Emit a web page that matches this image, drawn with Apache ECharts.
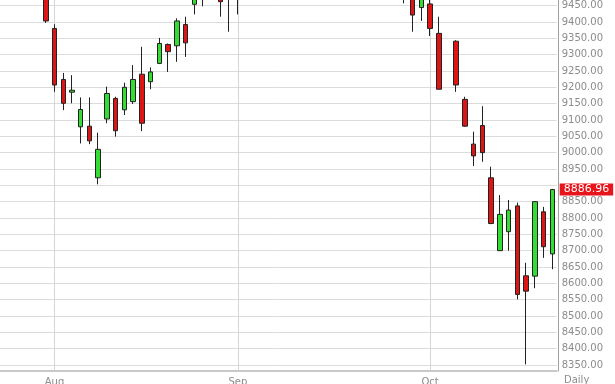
<!DOCTYPE html>
<html><head><meta charset="utf-8">
<script src="https://cdn.jsdelivr.net/npm/echarts@6/dist/echarts.min.js"></script>
<style>html,body{margin:0;padding:0;background:#fff}#c{width:615px;height:384px}</style>
</head><body><div id="c"></div>
<script>
// Trading days (Oct 3 slot is empty on the chart)
const dates = [
 '2014-07-24','2014-07-25','2014-07-28','2014-07-29','2014-07-30','2014-07-31',
 '2014-08-01','2014-08-04','2014-08-05','2014-08-06','2014-08-07','2014-08-08',
 '2014-08-11','2014-08-12','2014-08-13','2014-08-14','2014-08-15',
 '2014-08-18','2014-08-19','2014-08-20','2014-08-21','2014-08-22',
 '2014-08-25','2014-08-26','2014-08-27','2014-08-28','2014-08-29',
 '2014-09-01','2014-09-02','2014-09-03','2014-09-04','2014-09-05',
 '2014-09-08','2014-09-09','2014-09-10','2014-09-11','2014-09-12',
 '2014-09-15','2014-09-16','2014-09-17','2014-09-18','2014-09-19',
 '2014-09-22','2014-09-23','2014-09-24','2014-09-25','2014-09-26',
 '2014-09-29','2014-09-30','2014-10-01','2014-10-02','2014-10-03',
 '2014-10-06','2014-10-07','2014-10-08','2014-10-09','2014-10-10',
 '2014-10-13','2014-10-14','2014-10-15','2014-10-16','2014-10-17',
 '2014-10-20','2014-10-21'
];
const opens = [
 9720,9780,9630,9610,9650,9590,
 9380,9224,9185,9079,9081,8923,
 9103,9166,9131,9156,9240,
 9217,9273,9331,9327,9392,
 9454,9510,9590,9540,9480,
 9470,9480,9530,9630,9720,
 9750,9740,9670,9700,9700,
 9640,9650,9640,9700,9800,
 9780,9700,9590,9660,9500,
 9480,9444,9455,9365,null,
 9341,9163,9026,9083,8923,
 8700,8758,8837,8623,8622,
 8819,8690
];
const closes = [
 9797,9644,9598,9653,9593,9403,
 9207,9151,9191,9132,9036,9010,
 9181,9067,9200,9224,9090,
 9247,9334,9309,9403,9336,
 9510,9588,9569,9462,9470,
 9480,9507,9626,9724,9747,
 9758,9686,9710,9691,9651,
 9660,9632,9661,9798,9799,
 9749,9595,9661,9510,9490,
 9421,9474,9380,9194,null,
 9207,9081,8990,9000,8783,
 8811,8824,8566,8576,8850,
 8712,8886.96
];
const lows = [
 9700,9620,9580,9600,9570,9397,
 9186,9130,9151,9028,9026,8903,
 9090,9049,9115,9149,9066,
 9194,9271,9247,9278,9293,
 9423,9448,9520,9416,9370,
 9423,9470,9500,9600,9650,
 9720,9670,9640,9660,9640,
 9610,9600,9630,9690,9780,
 9720,9580,9560,9500,9457,
 9370,9403,9357,9193,null,
 9186,9079,8959,8972,8781,
 8699,8700,8551,8352,8585,
 8678,8643
];
const highs = [
 9810,9790,9650,9680,9660,9600,
 9393,9244,9237,9169,9169,9061,
 9202,9171,9214,9268,9324,
 9261,9351,9334,9411,9416,
 9530,9600,9620,9560,9490,
 9495,9520,9660,9740,9760,
 9790,9760,9720,9720,9720,
 9670,9670,9680,9810,9830,
 9790,9710,9670,9670,9530,
 9490,9490,9490,9416,null,
 9344,9171,9064,9142,8957,
 8870,8855,8847,8663,8851,
 8834,8889
];
const yTicks = [8350,8400,8450,8500,8550,8600,8650,8700,8750,8800,8850,8900,
 8950,9000,9050,9100,9150,9200,9250,9300,9350,9400,9450];
const monthStarts = ['2014-08-01','2014-09-01','2014-10-01'];
const monthNames = ['Aug','Sep','Oct'];
const periodLabel = 'Daily';

const candles = dates.map((d, i) => opens[i] == null ? '-' : [opens[i], closes[i], lows[i], highs[i]]);
const lastClose = closes[closes.length - 1];
// tick labels hidden behind the last-price tag
const yLabelValues = yTicks.filter(v => Math.abs(v - lastClose) >= 25);
const isMonthStart = (idx, val) => monthStarts.indexOf(val != null ? val : dates[idx]) >= 0;
const FONT = 'DejaVu Sans';
const TXT = '#8c8c8c';

const chart = echarts.init(document.getElementById('c'), null, {renderer: 'canvas'});
chart.setOption({
  animation: false,
  backgroundColor: '#ffffff',
  title: {
    text: periodLabel, left: 564, top: 375, padding: 0,
    textStyle: {fontFamily: FONT, fontSize: 10, fontWeight: 'normal', color: TXT}
  },
  grid: {left: -2.24, right: 58.33, top: 0, bottom: 13, containLabel: false, outerBoundsMode: 'none'},
  xAxis: {
    type: 'category', data: dates, boundaryGap: true,
    axisLine: {lineStyle: {color: '#c9c9c9', width: 2}},
    axisTick: {show: false, alignWithLabel: true, interval: (i, v) => isMonthStart(i, v)},
    axisLabel: {
      interval: (i, v) => isMonthStart(i, v),
      formatter: v => monthNames[monthStarts.indexOf(v)],
      margin: 6, fontFamily: FONT, fontSize: 10, color: TXT
    },
    splitLine: {show: true, alignWithLabel: true, interval: (i, v) => isMonthStart(i, v),
      lineStyle: {color: '#d6d6d6', width: 1}}
  },
  yAxis: {
    type: 'value', position: 'right', offset: 2,
    min: 8331.64, max: 9467.14,
    axisLine: {show: true, lineStyle: {color: '#a0a0a0', width: 1}},
    axisTick: {show: false, customValues: yTicks},
    axisLabel: {customValues: yLabelValues, formatter: v => v.toFixed(2), margin: 3,
      fontFamily: FONT, fontSize: 10, color: TXT},
    splitLine: {show: true, lineStyle: {color: '#dcdcdc', width: 1}}
  },
  series: [{
    type: 'candlestick', data: candles, barWidth: 5, clip: true,
    itemStyle: {color: '#33dd33', color0: '#dd1515', borderColor: '#222', borderColor0: '#222', borderWidth: 1}
  }, {
    type: 'line', data: [], clip: false, silent: true, symbol: 'none',
    markLine: {
      silent: true, symbol: 'none', animation: false,
      lineStyle: {color: 'rgba(0,0,0,0)', width: 0},
      data: [{yAxis: lastClose}],
      label: {show: true, position: 'end', distance: 3, formatter: () => lastClose.toFixed(2),
        backgroundColor: '#e8141b', color: '#ffffff', fontFamily: FONT, fontSize: 11,
        padding: [1, 4, 0, 4]}
    }
  }]
});
</script>
</body></html>
